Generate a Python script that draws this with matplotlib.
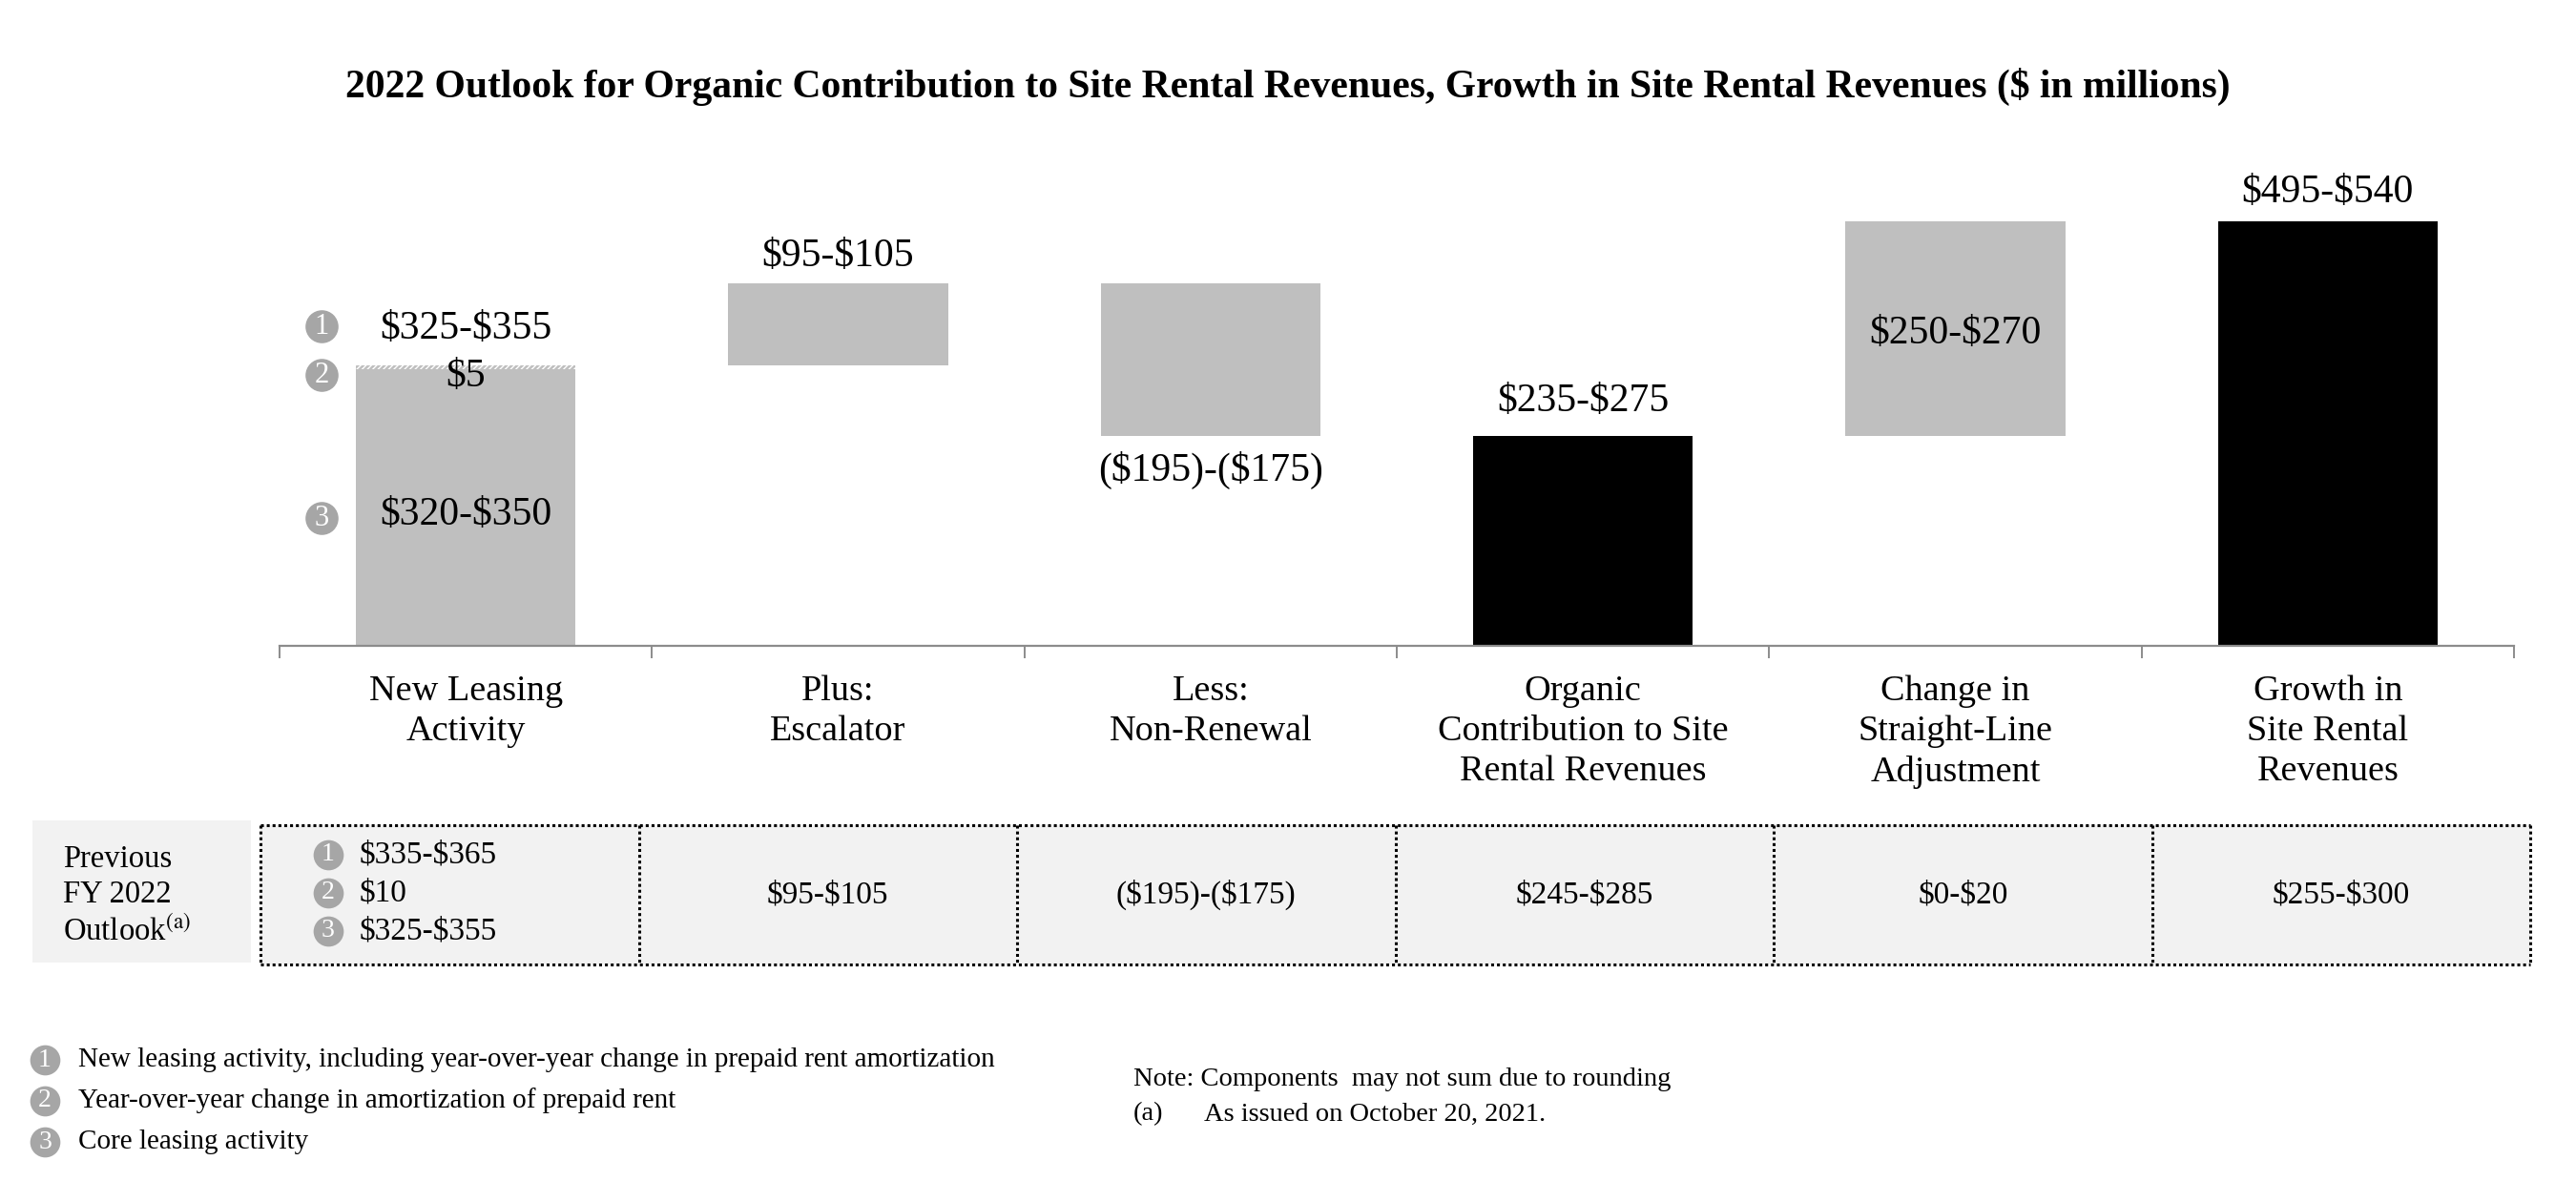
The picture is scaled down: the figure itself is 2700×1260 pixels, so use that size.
import matplotlib.pyplot as plt

plt.rcParams['font.family'] = ['Liberation Serif', 'DejaVu Serif']
plt.rcParams['mathtext.fontset'] = 'stix'
plt.rcParams['text.parse_math'] = False

# Data ($ in millions, midpoint of each outlook range)
categories = ['New Leasing\nActivity', 'Plus:\nEscalator', 'Less:\nNon-Renewal',
              'Organic\nContribution to Site\nRental Revenues',
              'Change in\nStraight-Line\nAdjustment', 'Growth in\nSite Rental\nRevenues']
steps = [340, 100, -185, 255, 260, 515]
is_total = [False, False, False, True, False, True]
core_leasing = 335      # $320-$350
prepaid_change = 5      # $5
range_labels = ['$325-$355', '$95-$105', '($195)-($175)', '$235-$275', '$250-$270', '$495-$540']
new_leasing_parts = ['$5', '$320-$350']
label_pos = ['above', 'above', 'below', 'above', 'inside', 'above']
label_off = [38, 28, 36, 36, -6, 30]   # pixels

prev_new_leasing = ['$335-$365', '$10', '$325-$355']
prev_outlook = ['$95-$105', '($195)-($175)', '$245-$285', '$0-$20', '$255-$300']
footnotes = ['New leasing activity, including year-over-year change in prepaid rent amortization',
             'Year-over-year change in amortization of prepaid rent',
             'Core leasing activity']

GRAY = '#bfbfbf'
DOT = '#a6a6a6'
W, H = 2700, 1260

fig = plt.figure(figsize=(27, 12.6), dpi=100)

# overlay in pixel coordinates for title, table and notes
ov = fig.add_axes([0, 0, 1, 1], zorder=0)
ov.set_xlim(0, W)
ov.set_ylim(H, 0)
ov.axis('off')

ax = fig.add_axes([293 / W, 1 - 677 / H, 2342 / W, 497 / H], zorder=1)
ax.patch.set_alpha(0)
ymax = 575
ax.set_ylim(0, ymax)
ax.set_xlim(-0.5, len(categories) - 0.5)
px = ymax / 497.0  # data units per pixel

# waterfall bars
bottoms, heights, colors = [], [], []
run = 0
for v, tot in zip(steps, is_total):
    if tot:
        bottoms.append(0)
        heights.append(v)
        colors.append('black')
        run = v
    else:
        bottoms.append(min(run, run + v))
        heights.append(abs(v))
        colors.append(GRAY)
        run += v
x = list(range(len(categories)))
bw = 0.59

# first bar split into core leasing + prepaid change (hatched)
ax.bar(0, core_leasing, bw, color=GRAY, linewidth=0)
ax.bar(0, prepaid_change, bw, bottom=core_leasing, color=GRAY, hatch='//////',
       edgecolor='white', linewidth=0)
ax.bar(x[1:], heights[1:], bw, bottom=bottoms[1:], color=colors[1:], linewidth=0)

label_y = []
for i in x:
    top = bottoms[i] + heights[i]
    if label_pos[i] == 'above':
        y = top + label_off[i] * px
    elif label_pos[i] == 'below':
        y = bottoms[i] - label_off[i] * px
    else:
        y = bottoms[i] + heights[i] / 2 + label_off[i] * px
    label_y.append(y)
    ax.text(i, y, range_labels[i], ha='center', va='center', fontsize=30)

y_prepaid = core_leasing + prepaid_change - 12 * px
y_core = core_leasing / 2 - 8 * px
ax.text(0, y_prepaid, new_leasing_parts[0], ha='center', va='center', fontsize=30)
ax.text(0, y_core, new_leasing_parts[1], ha='center', va='center', fontsize=30)

# numbered markers beside the first bar
cx = -0.387
for n, yy in zip(['1', '2', '3'], [label_y[0] + 3 * px, y_prepaid + 2 * px, y_core - 3 * px]):
    ax.scatter(cx, yy, s=620, color=DOT, linewidth=0, clip_on=False)
    ax.text(cx, yy, n, color='white', ha='center', va='center', fontsize=22)

# axis styling
for s in ['top', 'right', 'left']:
    ax.spines[s].set_visible(False)
ax.spines['bottom'].set_color('#8c8c8c')
ax.spines['bottom'].set_linewidth(1.6)
ax.set_yticks([])
ax.set_xticks([i - 0.5 for i in range(len(categories) + 1)])
ax.set_xticklabels([])
ax.tick_params(axis='x', which='major', length=9, width=1.4, color='#8c8c8c')
ax.set_xticks(x, categories, minor=True)
ax.tick_params(axis='x', which='minor', length=0, pad=22, labelsize=27.5)
for t in ax.get_xticklabels(minor=True):
    t.set_linespacing(1.28)

# title
ov.text(W / 2, 91, '2022 Outlook for Organic Contribution to Site Rental Revenues, '
        'Growth in Site Rental Revenues ($ in millions)',
        ha='center', va='center', fontsize=30, weight='bold')

# previous outlook table
t_top, t_bot = 865, 1011
t_left, col_w = 273, 396.5
ncol = len(prev_outlook) + 1
ov.add_patch(plt.Rectangle((34, 860), 229, 149, color='#f2f2f2', linewidth=0))
ov.add_patch(plt.Rectangle((t_left, t_top), col_w * ncol, t_bot - t_top, color='#f2f2f2', linewidth=0))
dot = dict(color='black', linewidth=2.2, linestyle=(0, (1, 1)), solid_capstyle='butt')
for yy in [t_top, t_bot]:
    ov.plot([t_left, t_left + col_w * ncol], [yy, yy], **dot)
for k in range(ncol + 1):
    xx = t_left + col_w * k
    ov.plot([xx, xx], [t_top, t_bot], **dot)

ov.text(66, 939, 'Previous\nFY 2022\nOutlook$^{\\mathrm{(a)}}$', ha='left', va='center',
        fontsize=23.5, linespacing=1.3, parse_math=True)
ty = (t_top + t_bot) / 2
for k, lab in enumerate(prev_outlook):
    ov.text(t_left + col_w * (k + 1.5), ty, lab, ha='center', va='center', fontsize=24)
for k, lab in enumerate(prev_new_leasing):
    yy = 896 + 40 * k
    ov.scatter(344, yy, s=520, color=DOT, linewidth=0)
    ov.text(344, yy, str(k + 1), color='white', ha='center', va='center', fontsize=20)
    ov.text(377, yy, lab, ha='left', va='center', fontsize=24)

# footnotes
for k, note in enumerate(footnotes):
    yy = 1111 + 43 * k
    ov.scatter(47, yy, s=520, color=DOT, linewidth=0)
    ov.text(47, yy, str(k + 1), color='white', ha='center', va='center', fontsize=20)
    ov.text(82, yy, note, ha='left', va='center', fontsize=21)

ov.text(1188, 1131, 'Note: Components  may not sum due to rounding', ha='left', va='center', fontsize=20.5)
ov.text(1188, 1168, '(a)', ha='left', va='center', fontsize=20.5)
ov.text(1262, 1168, 'As issued on October 20, 2021.', ha='left', va='center', fontsize=20.5)

fig.savefig('out.png', dpi=100)
